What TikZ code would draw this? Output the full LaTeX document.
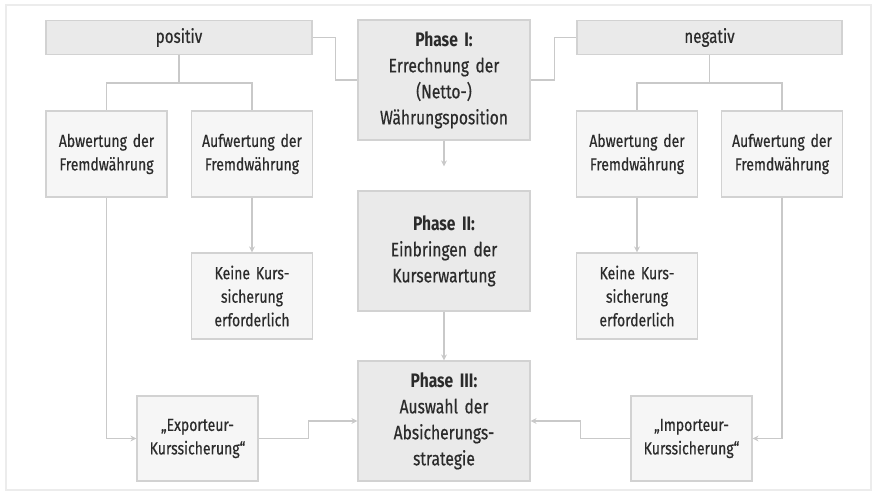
\documentclass[tikz,border=0pt]{standalone}
\usepackage{fontspec}
\setmainfont{Fira Sans}[FakeStretch=0.8, UprightFeatures={FakeBold=0.5}]
\usetikzlibrary{positioning, arrows.meta}
\definecolor{fxGrey}{HTML}{EAEAEA}
\definecolor{fxLight}{HTML}{F6F6F6}
\definecolor{fxEdge}{HTML}{D2D2D2}
\definecolor{fxLine}{HTML}{C9C9C9}
\definecolor{fxText}{HTML}{2B2B2B}
\definecolor{fxFrame}{HTML}{ECECEC}
\tikzset{
  phasebox/.style={draw=fxEdge, line width=1.2pt, fill=fxGrey, text=fxText, align=center,
    minimum width=172pt, minimum height=120pt, text width=164pt, inner sep=0pt,
    font=\fontsize{19.5}{26}\selectfont},
  signbox/.style={draw=fxEdge, line width=1.2pt, fill=fxGrey, text=fxText, align=center,
    minimum width=266pt, minimum height=34pt, inner sep=0pt, font=\fontsize{19}{24}\selectfont},
  casebox/.style={draw=fxEdge, line width=1.2pt, fill=fxLight, text=fxText, align=center,
    minimum width=121pt, minimum height=86pt, text width=116pt, inner sep=0pt,
    font=\fontsize{17.5}{23.5}\selectfont},
  conn/.style={draw=fxLine, line width=1.3pt},
  arr/.style={conn, -{Stealth[length=6pt,width=6pt]}},
}

\begin{document}
\begin{tikzpicture}[x=1pt,y=-1pt]
\useasboundingbox (0,0) rectangle (872,493);
\draw[fxFrame, line width=1.5pt] (6,5) rectangle (871,490);

% phases
\node[phasebox] (ph1) at (444,80) {\textbf{Phase I:}\\Errechnung der\\(Netto-)\\Währungsposition};
\node[phasebox] (ph2) at (444,251) {\textbf{Phase II:}\\Einbringen der\\Kurserwartung};
\node[phasebox] (ph3) at (444,421) {\textbf{Phase III:}\\Auswahl der\\Absicherungs-\\strategie};

% positiv branch
\node[signbox] (pos) at (179,37.5) {positiv};
\node[casebox] (abwL) at (106.5,154) {Abwertung der\\Fremdwährung};
\node[casebox] (aufL) at (252,154) {Aufwertung der\\Fremdwährung};
\node[casebox] (keinL) at (252,296) {Keine Kurs-\\sicherung\\erforderlich};
\node[casebox, minimum height=85pt] (exp) at (197.5,438.5) {„Exporteur-\\Kurssicherung“};

% negativ branch
\node[signbox, minimum width=265pt] (neg) at (709.5,37.5) {negativ};
\node[casebox] (abwR) at (637,154) {Abwertung der\\Fremdwährung};
\node[casebox] (aufR) at (782,154) {Aufwertung der\\Fremdwährung};
\node[casebox] (keinR) at (637,296) {Keine Kurs-\\sicherung\\erforderlich};
\node[casebox, minimum height=85pt] (imp) at (691.5,438.5) {„Importeur-\\Kurssicherung“};

% connectors
\draw[conn] (pos.east) -- ++(23,0) |- (ph1.west);
\draw[conn] (ph1.east) -- ++(24,0) |- (neg.west);
\draw[conn] (pos.south) -- ++(0,28) -| (abwL.north);
\draw[conn] (pos.south) ++(0,28) -| (aufL.north);
\draw[conn] (neg.south) -- ++(0,28) -| (abwR.north);
\draw[conn] (neg.south) ++(0,28) -| (aufR.north);

\draw[arr, shorten >=24pt] (ph1) -- (ph2);
\draw[arr] (ph2) -- (ph3);
\draw[arr] (aufL) -- (keinL);
\draw[arr] (abwR) -- (keinR);
\draw[arr] (abwL.south) |- (exp.west);
\draw[arr] (aufR.south) |- (imp.east);
\draw[arr] (exp.east) -- ++(50,0) |- (ph3.west);
\draw[arr] (imp.west) -- ++(-50,0) |- (ph3.east);
\end{tikzpicture}
\end{document}
